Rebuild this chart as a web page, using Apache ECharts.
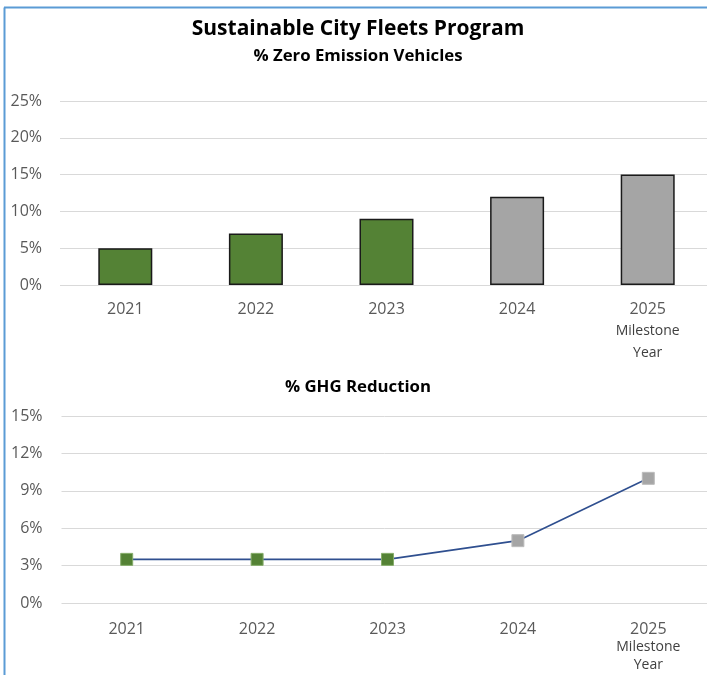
<!DOCTYPE html>
<html>
<head>
<meta charset="utf-8">
<script src="https://cdn.jsdelivr.net/npm/echarts@6/dist/echarts.min.js"></script>
<style>
  html, body { margin: 0; padding: 0; background: #fff; }
  #chart { width: 707px; height: 675px; }
</style>
</head>
<body>
<div id="chart"></div>
<script>
// chart data
var years = ["2021", "2022", "2023", "2024", "2025"];
var milestoneYear = "2025";
var zevPercent = [5, 7, 9, 12, 15];
var ghgPercent = [3.5, 3.5, 3.5, 5, 10];
var isProjected = [false, false, false, true, true];
var zevTicks = [0, 25, 5];   // min, max, interval
var ghgTicks = [0, 15, 3];

var GREEN = "#548235";
var GREY = "#A5A5A5";
var FONT = "Open Sans";

function yearLabel(v) {
  if (v === milestoneYear) return "{y|" + v + "}\n{m|Milestone}\n{m|Year}";
  return "{y|" + v + "}";
}

function xAxisFor(gridIndex, margin, lh) {
  return {
    type: "category",
    gridIndex: gridIndex,
    data: years,
    axisLine: { show: false },
    axisTick: { show: false },
    axisLabel: {
      margin: margin,
      formatter: yearLabel,
      rich: {
        y: { fontFamily: FONT, fontSize: 16, color: "#595959", lineHeight: lh },
        m: { fontFamily: FONT, fontSize: 14, color: "#404040", lineHeight: lh }
      }
    }
  };
}

function yAxisFor(gridIndex, ticks, margin) {
  return {
    type: "value",
    gridIndex: gridIndex,
    min: ticks[0],
    max: ticks[1],
    interval: ticks[2],
    axisLine: { show: false },
    axisTick: { show: false },
    splitLine: { lineStyle: { color: "#D9D9D9", width: 1 } },
    axisLabel: {
      margin: margin,
      fontFamily: FONT,
      fontSize: 16,
      color: "#595959",
      formatter: "{value}%"
    }
  };
}

var barData = zevPercent.map(function (v, i) {
  return {
    value: v,
    itemStyle: { color: isProjected[i] ? GREY : GREEN, borderColor: "#1a1a1a", borderWidth: 1.5 }
  };
});

var lineData = ghgPercent.map(function (v, i) {
  return {
    value: v,
    itemStyle: {
      color: isProjected[i] ? GREY : GREEN,
      borderColor: isProjected[i] ? "#bcbcbc" : "#86ad6a",
      borderWidth: 1
    }
  };
});

var chart = echarts.init(document.getElementById("chart"));
chart.setOption({
  animation: false,
  title: [
    {
      text: "Sustainable City Fleets Program",
      left: 353, top: 14, textAlign: "center",
      textStyle: { fontFamily: FONT, fontSize: 21, fontWeight: "bold", color: "#000" }
    },
    {
      text: "% Zero Emission Vehicles",
      left: 353, top: 43, textAlign: "center",
      textStyle: { fontFamily: FONT, fontSize: 16.8, fontWeight: "bold", color: "#000" }
    },
    {
      text: "% GHG Reduction",
      left: 353, top: 374, textAlign: "center",
      textStyle: { fontFamily: FONT, fontSize: 16.8, fontWeight: "bold", color: "#000" }
    }
  ],
  graphic: [
    { type: "line", shape: { x1: 4.5, y1: 7.5, x2: 4.5, y2: 675 }, style: { stroke: "#5B9BD5", lineWidth: 2 } },
    { type: "line", shape: { x1: 4, y1: 7.5, x2: 707, y2: 7.5 }, style: { stroke: "#5B9BD5", lineWidth: 2 } }
  ],
  grid: [
    { left: 60, width: 653, top: 101, height: 184, outerBoundsMode: "none", containLabel: false },
    { left: 61.5, width: 652, top: 416, height: 187, outerBoundsMode: "none", containLabel: false }
  ],
  xAxis: [xAxisFor(0, 13, 22), xAxisFor(1, 17, 18)],
  yAxis: [yAxisFor(0, zevTicks, 18), yAxisFor(1, ghgTicks, 19)],
  series: [
    {
      name: "% Zero Emission Vehicles",
      type: "bar",
      xAxisIndex: 0,
      yAxisIndex: 0,
      barWidth: 54,
      data: barData
    },
    {
      name: "% GHG Reduction",
      type: "line",
      xAxisIndex: 1,
      yAxisIndex: 1,
      symbol: "rect",
      symbolSize: 12,
      lineStyle: { color: "#2F4F8F", width: 1.6 },
      data: lineData
    }
  ]
});
</script>
</body>
</html>
